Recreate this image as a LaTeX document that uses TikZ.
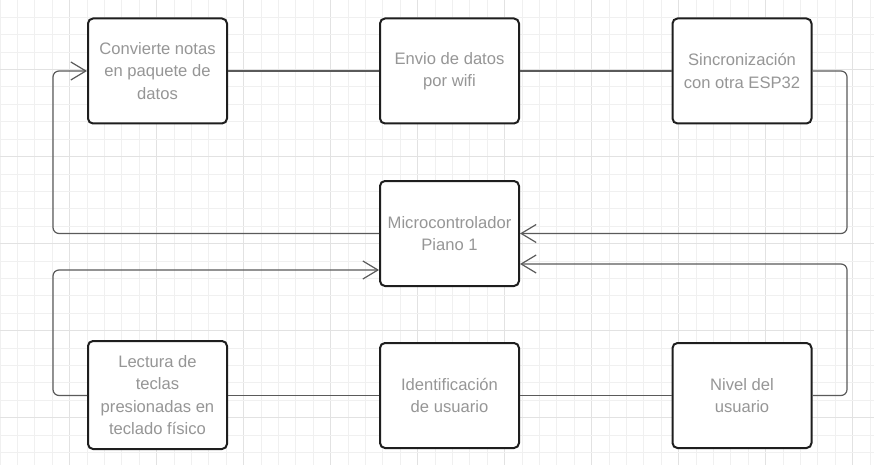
\documentclass[tikz,border=0pt]{standalone}
\usepackage{fontspec}
\setmainfont{Liberation Sans}
\usetikzlibrary{arrows.meta}
\definecolor{gridminor}{HTML}{F0F0F0}
\definecolor{gridmajor}{HTML}{E2E2E2}
\definecolor{boxline}{HTML}{1E1E1E}
\definecolor{boxtext}{HTML}{969696}
\definecolor{connline}{HTML}{5A5A5A}
\tikzset{
  procbox/.style={draw=boxline, line width=2pt, fill=white, rectangle, rounded corners=5pt,
    minimum width=139pt, minimum height=105pt, align=center, text=boxtext,
    font=\fontsize{16.6}{22.5}\selectfont, inner sep=2pt},
  conn/.style={draw=connline, line width=1.2pt, rounded corners=6pt},
  arr/.style={-{Straight Barb[length=15pt,width=18pt,line width=1.2pt]}}
}
\begin{document}
\begin{tikzpicture}[x=1pt,y=-1pt]
\useasboundingbox (0,0) rectangle (874,465);
\fill[white] (0,0) rectangle (874,465);
% grid
\foreach \k in {0,...,50} {
  \pgfmathsetmacro{\xx}{\k*17.4}
  \pgfmathtruncatemacro{\mm}{mod(\k,5)}
  \ifnum\mm=4
    \draw[gridmajor, line width=1pt] (\xx,0) -- (\xx,465);
  \else
    \draw[gridminor, line width=1pt] (\xx,0) -- (\xx,465);
  \fi
}
\foreach \k in {0,...,27} {
  \pgfmathsetmacro{\yy}{\k*17.4}
  \pgfmathtruncatemacro{\mm}{mod(\k,5)}
  \ifnum\mm=4
    \draw[gridmajor, line width=1pt] (0,\yy) -- (874,\yy);
  \else
    \draw[gridminor, line width=1pt] (0,\yy) -- (874,\yy);
  \fi
}
% rails
\coordinate (Lrail) at (53,0);
\coordinate (Rrail) at (847,0);
% nodes
\node[procbox] (b1) at (157.5,71) {Convierte notas\\en paquete de\\datos};
\node[procbox] (b2) at (449.5,71) {Envio de datos\\por wifi};
\node[procbox] (b3) at (742,71) {Sincronización\\con otra ESP32};
\node[procbox] (mc) at (449.5,233.5) {Microcontrolador\\Piano 1};
\node[procbox, minimum height=108pt] (lec) at (157.5,395) {Lectura de\\teclas\\presionadas en\\teclado físico};
\node[procbox] (idu) at (449.5,395.5) {Identificación\\de usuario};
\node[procbox] (niv) at (742,395.5) {Nivel del\\usuario};
\coordinate (mcR2) at ([yshift=-30.5pt]mc.east);
\coordinate (mcL2) at ([yshift=-36.5pt]mc.west);
% connectors
\draw[conn] (b1.east) -- (b2.west);
\draw[conn] (b2.east) -- (b3.west);
\draw[conn] (lec.east |- idu.west) -- (idu.west);
\draw[conn] (idu.east) -- (niv.west);
\draw[conn, arr] (mc.west) -| (Lrail |- b1.west) -- (b1.west);
\draw[conn, arr] (b3.east) -| (Rrail |- mc.east) -- (mc.east);
\draw[conn, arr] (niv.east) -| (Rrail |- mcR2) -- (mcR2);
\draw[conn, arr] (lec.west |- idu.west) -| (Lrail |- mcL2) -- (mcL2);
\end{tikzpicture}
\end{document}
